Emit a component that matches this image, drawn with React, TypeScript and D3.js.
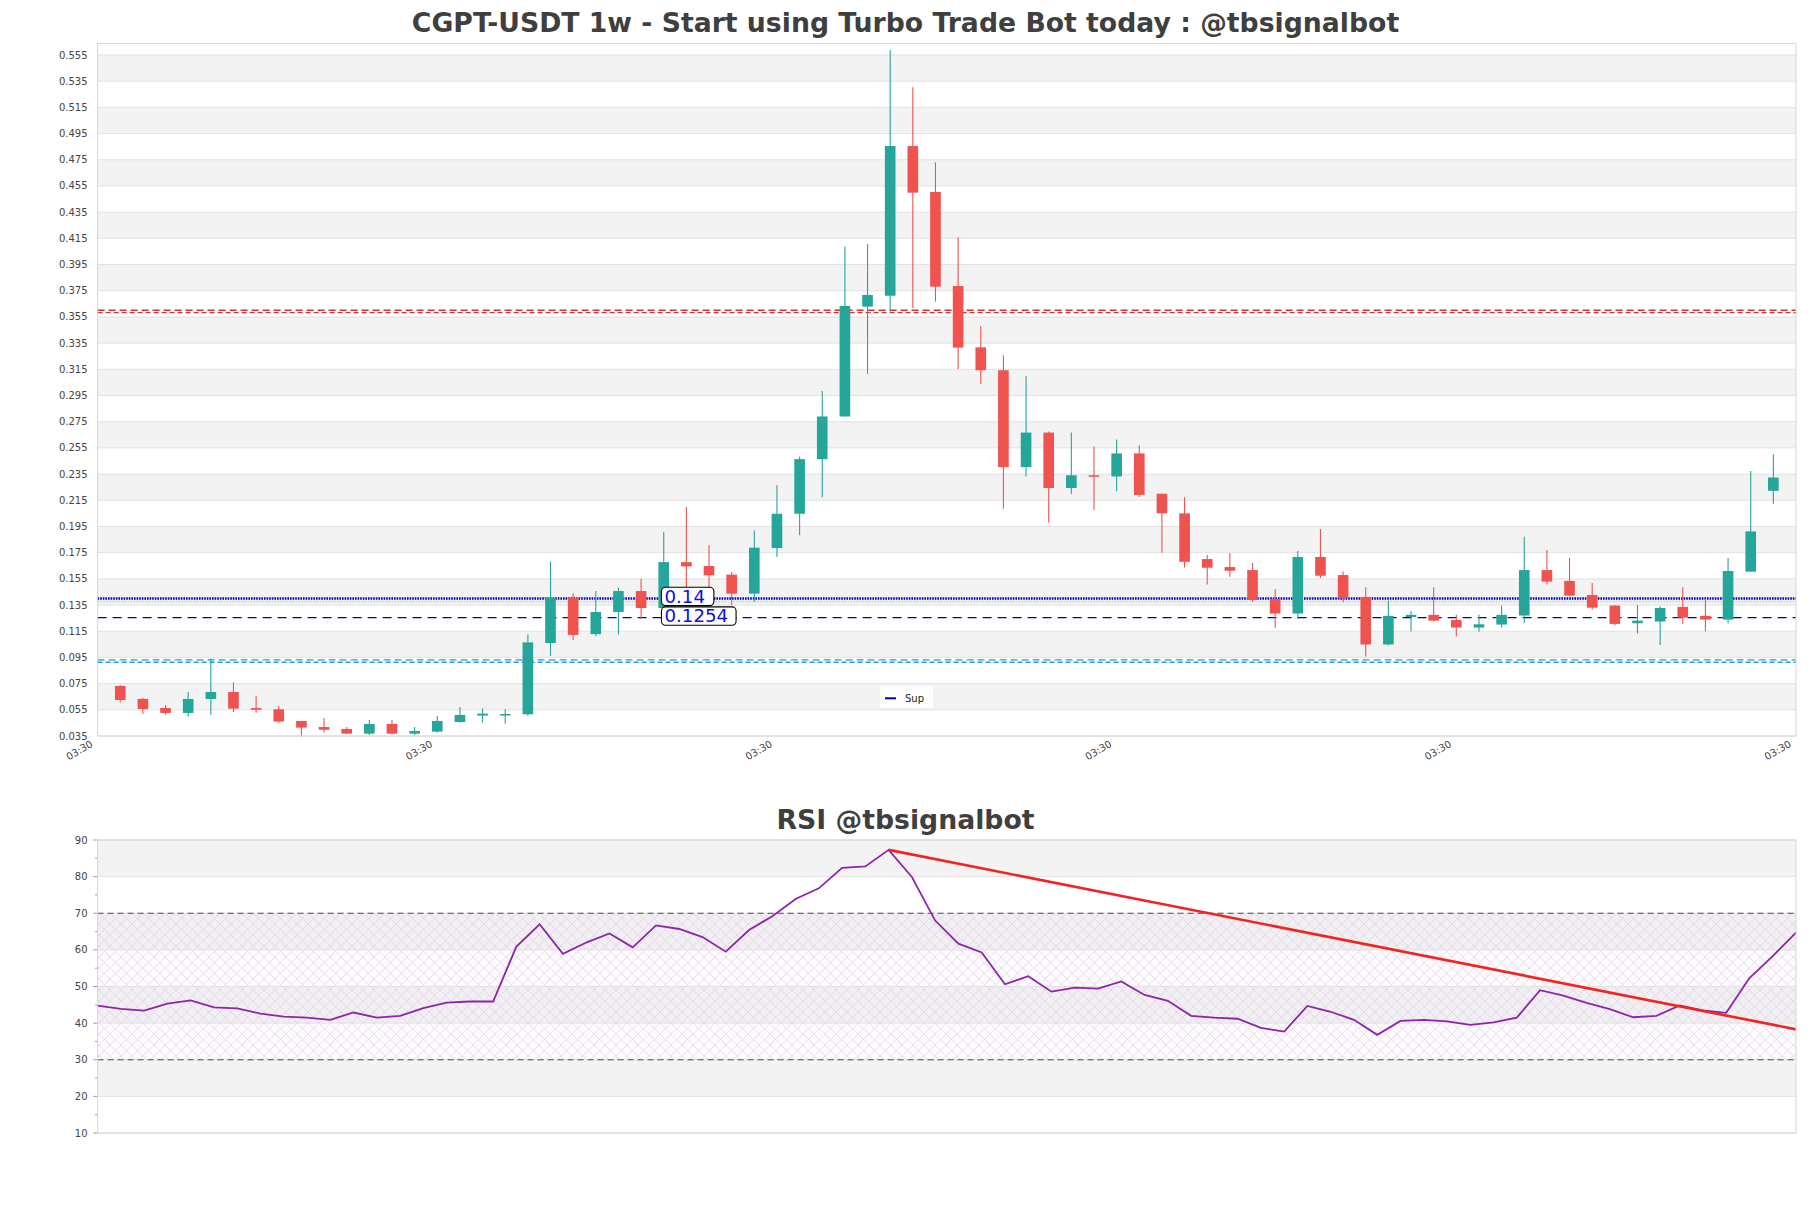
import React from "react";
import * as d3 from "d3";

// ---------- DATA ----------
const opens = [0.0732,0.0633,0.0564,0.0526,0.0633,0.0686,0.0564,0.0554,0.0465,0.0419,0.0404,0.0368,0.0442,0.0368,0.0383,0.0457,0.0506,0.0513,0.0516,0.1060,0.1406,0.1128,0.1297,0.1457,0.1327,0.1678,0.1648,0.1582,0.1437,0.1785,0.2047,0.2464,0.2790,0.3629,0.3712,0.4855,0.4504,0.3786,0.3318,0.3143,0.2403,0.2667,0.2244,0.2341,0.2332,0.2508,0.2200,0.2050,0.1701,0.1640,0.1617,0.1396,0.1285,0.1717,0.1579,0.1412,0.1049,0.1259,0.1275,0.1236,0.1178,0.1201,0.1270,0.1617,0.1534,0.1427,0.1346,0.1211,0.1224,0.1336,0.1267,0.1239,0.1605,0.2222];
const highs = [0.0737,0.0640,0.0587,0.0686,0.0941,0.0760,0.0656,0.0579,0.0465,0.0488,0.0419,0.0472,0.0472,0.0419,0.0503,0.0572,0.0561,0.0556,0.1125,0.1682,0.1440,0.1457,0.1483,0.1551,0.1908,0.2098,0.1806,0.1602,0.1920,0.2264,0.2482,0.2984,0.4087,0.4107,0.5588,0.5303,0.4731,0.4158,0.3481,0.3257,0.3099,0.2676,0.2667,0.2561,0.2614,0.2570,0.2200,0.2174,0.1733,0.1747,0.1671,0.1473,0.1762,0.1930,0.1607,0.1485,0.1384,0.1305,0.1485,0.1275,0.1275,0.1346,0.1871,0.1770,0.1709,0.1518,0.1351,0.1350,0.1341,0.1485,0.1396,0.1709,0.2374,0.2501];
const lows = [0.0605,0.0518,0.0513,0.0498,0.0513,0.0533,0.0528,0.0452,0.0345,0.0375,0.0368,0.0355,0.0363,0.0355,0.0375,0.0452,0.0452,0.0444,0.0505,0.0961,0.1084,0.1111,0.1126,0.1246,0.1322,0.1380,0.1488,0.1348,0.1373,0.1717,0.1883,0.2174,0.2790,0.3116,0.3590,0.3616,0.3667,0.3152,0.3037,0.2086,0.2332,0.1980,0.2200,0.2077,0.2218,0.2175,0.1750,0.1636,0.1506,0.1567,0.1376,0.1176,0.1244,0.1556,0.1371,0.0957,0.1041,0.1148,0.1224,0.1110,0.1146,0.1178,0.1214,0.1506,0.1417,0.1315,0.1193,0.1133,0.1045,0.1206,0.1148,0.1209,0.1605,0.2123];
const closes = [0.0625,0.0556,0.0526,0.0633,0.0686,0.0559,0.0551,0.0460,0.0414,0.0398,0.0368,0.0442,0.0368,0.0388,0.0465,0.0511,0.0521,0.0518,0.1065,0.1406,0.1122,0.1297,0.1457,0.1327,0.1678,0.1645,0.1577,0.1437,0.1788,0.2047,0.2464,0.2790,0.3634,0.3718,0.4855,0.4499,0.3781,0.3316,0.3143,0.2403,0.2667,0.2244,0.2341,0.2332,0.2508,0.2191,0.2050,0.1680,0.1635,0.1612,0.1389,0.1285,0.1717,0.1574,0.1404,0.1049,0.1267,0.1275,0.1231,0.1178,0.1203,0.1275,0.1617,0.1529,0.1422,0.1330,0.1206,0.1231,0.1328,0.1254,0.1239,0.1610,0.1912,0.2324];

const rsiValues = [44.8,43.9,43.4,45.3,46.2,44.3,44.0,42.6,41.8,41.5,40.9,42.9,41.5,42.0,44.1,45.6,45.9,45.9,60.9,67.0,58.9,62.0,64.5,60.7,66.7,65.7,63.5,59.5,65.4,69.2,73.9,76.8,82.4,82.8,87.3,79.9,68.0,61.7,59.3,50.6,52.8,48.6,49.7,49.4,51.4,47.7,46.1,42.0,41.5,41.2,38.7,37.7,44.7,43.1,40.9,36.8,40.6,40.9,40.5,39.5,40.2,41.5,49.0,47.5,45.5,43.8,41.6,42.0,44.8,43.5,42.8,52.3,58.3,64.7];

const priceTicks = [0.035,0.055,0.075,0.095,0.115,0.135,0.155,0.175,0.195,0.215,0.235,0.255,0.275,0.295,0.315,0.335,0.355,0.375,0.395,0.415,0.435,0.455,0.475,0.495,0.515,0.535,0.555];
const rsiTicks = [10,20,30,40,50,60,70,80,90];
const rsiMinorTicks = [15,25,35,45,55,65,75,85];
const xTickPositions = [-1,14,29,44,59,74];
const xTickLabels = ["03:30","03:30","03:30","03:30","03:30","03:30"];

const resistanceLines = [0.3601, 0.3583];
const supportZoneLines = [0.0931, 0.0913];
const supLevels = [0.14, 0.1254];
const supLabels = ["0.14", "0.1254"];
const rsiBounds = [30, 70];
const trendIdx = [34, 73];
const trendVals = [87.3, 38.3];

const TITLE = "CGPT-USDT 1w - Start using Turbo Trade Bot today : @tbsignalbot";
const RSI_TITLE = "RSI @tbsignalbot";

// ---------- LAYOUT ----------
const W = 1811, H = 1208;
const L = 97.6, R = 1796;
const mainTop = 43.5, mainBot = 736;
const rsiTop = 840, rsiBot = 1133;
const UP = "#26a69a", DOWN = "#ef5350";
const BAND = "#f3f3f3", GRID = "#e2e2e2", FRAME = "#d6d6d6", TXT = "#444444";
const FONT = "DejaVu Sans, sans-serif";

export default function App() {
  const n = closes.length;
  const x = d3.scaleLinear().domain([-1, n]).range([L, R]);
  const y = d3.scaleLinear().domain([0.035, 0.5638]).range([mainBot, mainTop]);
  const xr = d3.scaleLinear().domain([0, rsiValues.length - 1]).range([L, R]);
  const yr = d3.scaleLinear().domain([10, 90]).range([rsiBot, rsiTop]);
  const step = x(1) - x(0);
  const bw = step * 0.47;

  const rsiLine = d3.line<number>().x((_, i) => xr(i)).y((v) => yr(v));
  const trendLine = d3.line<number>().x((_, i) => xr(trendIdx[i])).y((v) => yr(v));

  const annX = x(23.9);

  return (
    <svg width={W} height={H} style={{ position: "absolute", left: 0, top: 0, background: "#fff" }} fontFamily={FONT}>
      <defs>
        <pattern id="hatch" width="11" height="11" patternUnits="userSpaceOnUse">
          <path d="M0,0 L11,11 M11,0 L0,11" stroke="#cdbfdb" strokeWidth="0.6" opacity="0.8" />
        </pattern>
      </defs>
      <rect x={0} y={0} width={W} height={H} fill="#fff" />

      {/* ===== MAIN TITLE ===== */}
      <text x={W / 2} y={31.7} textAnchor="middle" fontSize={26.7} fontWeight="bold" fill="#3f3f3f">{TITLE}</text>

      {/* ===== MAIN PANEL ===== */}
      {priceTicks.slice(0, -1).map((t, i) =>
        i % 2 === 1 ? (
          <rect key={"b" + i} x={L} width={R - L} y={y(priceTicks[i + 1])} height={y(t) - y(priceTicks[i + 1])} fill={BAND} />
        ) : null
      )}
      {priceTicks.map((t, i) => (
        <line key={"g" + i} x1={L} x2={R} y1={y(t)} y2={y(t)} stroke={GRID} strokeWidth={1} />
      ))}
      {priceTicks.map((t, i) => (
        <text key={"yl" + i} x={L - 10} y={y(t) + 3.5} textAnchor="end" fontSize={10} fill={TXT}>{t.toFixed(3)}</text>
      ))}
      {xTickPositions.map((p, i) => (
        <text key={"xl" + i} transform={`translate(${x(p) - 4},${mainBot + 10}) rotate(-30)`} textAnchor="end" fontSize={10} fill={TXT}>{xTickLabels[i]}</text>
      ))}

      {/* resistance double dashed */}
      <line x1={L} x2={R} y1={y(resistanceLines[0])} y2={y(resistanceLines[0])} stroke="#d63030" strokeWidth={1.3} strokeDasharray="7,4" />
      <line x1={L} x2={R} y1={y(resistanceLines[1])} y2={y(resistanceLines[1])} stroke="#d63030" strokeWidth={1.3} strokeDasharray="5,3" />
      {/* support zone double dashed */}
      <line x1={L} x2={R} y1={y(supportZoneLines[0])} y2={y(supportZoneLines[0])} stroke="#2299e0" strokeWidth={1.3} strokeDasharray="7,4" />
      <line x1={L} x2={R} y1={y(supportZoneLines[1])} y2={y(supportZoneLines[1])} stroke="#2299e0" strokeWidth={1.3} strokeDasharray="5,3" />
      {/* sup lines */}
      <line x1={L} x2={R} y1={y(supLevels[0]) + 3} y2={y(supLevels[0]) + 3} stroke="#c9c9e6" strokeWidth={1.5} strokeDasharray="1.5,1.5" />
      <line x1={L} x2={R} y1={y(supLevels[0])} y2={y(supLevels[0])} stroke="#0000c8" strokeWidth={2.5} strokeDasharray="1.6,1" />
      <line x1={L} x2={R} y1={y(supLevels[1])} y2={y(supLevels[1])} stroke="#0000a8" strokeWidth={1.2} strokeDasharray="9,6" />

      {/* candles */}
      {closes.map((c, i) => {
        const o = opens[i];
        const up = c >= o;
        const col = up ? UP : DOWN;
        const top = y(Math.max(o, c));
        const bot = y(Math.min(o, c));
        return (
          <g key={"c" + i}>
            <line x1={x(i)} x2={x(i)} y1={y(highs[i])} y2={y(lows[i])} stroke={col} strokeWidth={1.1} />
            <rect x={x(i) - bw / 2} y={top} width={bw} height={Math.max(1.5, bot - top)} fill={col} />
          </g>
        );
      })}

      {/* annotations */}
      {supLabels.map((s, i) => {
        const w = s.length * 11.1 + 8;
        const yy = y(supLevels[i]);
        const boxY = i === 0 ? yy - 11.3 : yy - 10.7;
        return (
          <g key={"a" + i}>
            <rect x={annX} y={boxY} width={w} height={18.4} rx={4} ry={4} fill="#fff" stroke="#000" strokeWidth={1.1} />
            <text x={annX + 3} y={boxY + 15.5} fontSize={18.2} fill="#1010dd">{s}</text>
          </g>
        );
      })}

      {/* legend */}
      <rect x={880} y={686} width={53} height={22} fill="#fff" opacity={0.85} />
      <line x1={885} x2={896} y1={698.3} y2={698.3} stroke="#0000a8" strokeWidth={2} />
      <text x={905} y={701.5} fontSize={10} fill="#222">Sup</text>

      <rect x={L} y={mainTop} width={R - L} height={mainBot - mainTop} fill="none" stroke={FRAME} strokeWidth={1} />

      {/* ===== RSI PANEL ===== */}
      <text x={W / 2} y={829} textAnchor="middle" fontSize={26.7} fontWeight="bold" fill="#3f3f3f">{RSI_TITLE}</text>
      {rsiTicks.slice(0, -1).map((t, i) =>
        i % 2 === 1 ? (
          <rect key={"rb" + i} x={L} width={R - L} y={yr(rsiTicks[i + 1])} height={yr(t) - yr(rsiTicks[i + 1])} fill={BAND} />
        ) : null
      )}
      <rect x={L} width={R - L} y={yr(rsiBounds[1])} height={yr(rsiBounds[0]) - yr(rsiBounds[1])} fill="url(#hatch)" />
      <rect x={L} width={R - L} y={yr(rsiBounds[1])} height={yr(rsiBounds[0]) - yr(rsiBounds[1])} fill="#e8e0ee" opacity={0.15} />
      {rsiTicks.map((t, i) => (
        <line key={"rg" + i} x1={L} x2={R} y1={yr(t)} y2={yr(t)} stroke={GRID} strokeWidth={1} />
      ))}
      {rsiTicks.map((t, i) => (
        <g key={"rt" + i}>
          <line x1={L - 4.5} x2={L} y1={yr(t)} y2={yr(t)} stroke="#888" strokeWidth={0.8} />
          <text x={L - 10} y={yr(t) + 3.5} textAnchor="end" fontSize={10} fill={TXT}>{t}</text>
        </g>
      ))}
      {rsiMinorTicks.map((t, i) => (
        <line key={"rm" + i} x1={L - 2.5} x2={L} y1={yr(t)} y2={yr(t)} stroke="#888" strokeWidth={0.8} />
      ))}
      {rsiBounds.map((b, i) => (
        <line key={"rbd" + i} x1={L} x2={R} y1={yr(b)} y2={yr(b)} stroke="#333" strokeWidth={1} strokeDasharray="6,4" opacity={0.85} />
      ))}
      <path d={rsiLine(rsiValues) || ""} fill="none" stroke="#8e24aa" strokeWidth={1.8} />
      <path d={trendLine(trendVals) || ""} fill="none" stroke="#f2241f" strokeWidth={2.6} />
      <rect x={L} y={rsiTop} width={R - L} height={rsiBot - rsiTop} fill="none" stroke={FRAME} strokeWidth={1} />
    </svg>
  );
}
